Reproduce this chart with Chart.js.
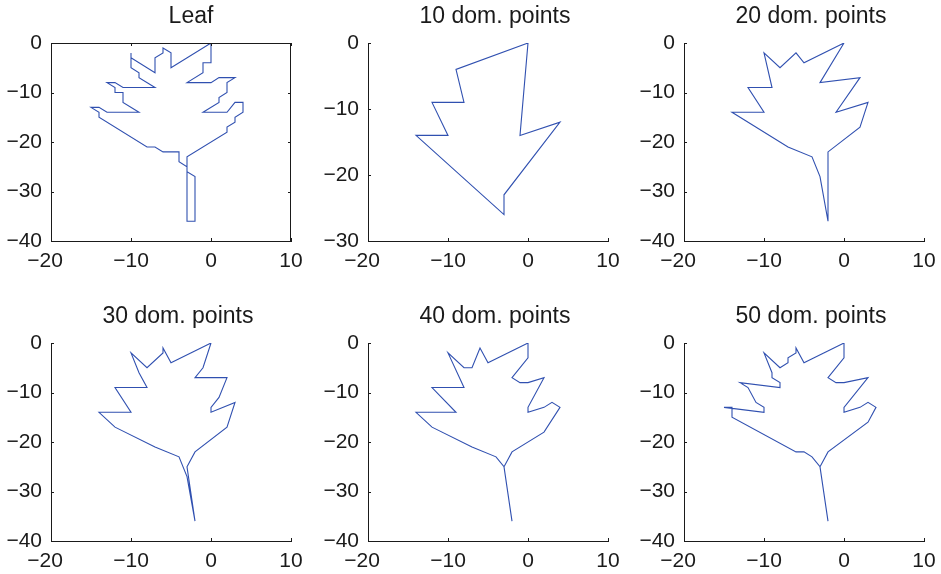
<!DOCTYPE html>
<html><head><meta charset="utf-8">
<script src="https://cdn.jsdelivr.net/npm/chart.js@4.4.1/dist/chart.umd.min.js"></script>
<style>
html,body{margin:0;padding:0;background:#fff;width:941px;height:574px;overflow:hidden;position:relative;}
canvas{position:absolute;}
</style></head><body>
<script>
// ---- tick labels ----
const xTicks = [-20, -10, 0, 10];
const yTicks40 = [-40, -30, -20, -10, 0];
const yTicks30 = [-30, -20, -10, 0];

// ---- titles ----
const titles = ['Leaf', '10 dom. points', '20 dom. points', '30 dom. points', '40 dom. points', '50 dom. points'];

// ---- series (outline vertices) ----
const leafX = [0,-5,-5,-6,-6,-7,-7,-10,-10,-10,-9,-9,-7,-11,-12,-13,-12,-12,-11,-11,-9,-13,-14,-15,-14,-14,-8,-7,-6,-4,-4,-3,-3,-2,-2,-3,-3,2,2,3,3,4,4,3,2,-1,1,1,2,2,3,1,0,-3,-1,-1,0,0];
const leafY = [0,-5,-2,-1,-2,-3,-6,-3,-2,-5,-6,-7,-9,-9,-8,-8,-9,-10,-10,-12,-14,-14,-13,-13,-14,-15,-21,-21,-22,-22,-24,-25,-36,-36,-27,-26,-23,-18,-17,-16,-15,-14,-12,-12,-14,-14,-12,-11,-10,-8,-7,-7,-8,-8,-6,-4,-4,0];

const dom10X = [0,-9,-8,-12,-10,-14,-3,-3,4,-1,0];
const dom10Y = [0,-4,-9,-9,-14,-14,-26,-23,-12,-14,0];

const dom20X = [0,-3,2,-1,3,2,-2,-2,-3,-4,-7,-14,-10,-12,-9,-10,-8,-6,-5,0];
const dom20Y = [0,-8,-7,-14,-12,-17,-22,-36,-27,-23,-21,-14,-14,-9,-9,-2,-5,-2,-4,0];

const dom30X = [0,-1,-2,2,1,0,0,3,2,-2,-3,-2,-3,-4,-7,-12,-14,-10,-12,-8,-9,-10,-8,-6,-6,-5,0];
const dom30Y = [0,-5,-7,-7,-11,-13,-14,-12,-17,-22,-25,-36,-27,-23,-21,-17,-14,-14,-9,-9,-6,-2,-5,-2,-1,-4,0];

const dom40X = [0,0,-2,-1,0,2,0,0,2,3,4,2,-2,-3,-2,-3,-4,-7,-12,-14,-9,-12,-8,-10,-8,-7,-6,-5,0];
const dom40Y = [0,-3,-7,-8,-8,-7,-13,-14,-13,-12,-13,-18,-22,-25,-36,-25,-23,-21,-17,-14,-14,-9,-9,-2,-5,-5,-1,-4,0];

const dom50X = [0,0,-2,-1,0,3,0,0,2,3,4,3,-2,-3,-2,-3,-4,-5,-6,-14,-14,-14,-15,-10,-10,-11,-12,-13,-8,-8,-9,-9,-10,-8,-7,-7,-6,-6,-5,0];
const dom50Y = [0,-3,-7,-8,-8,-7,-13,-14,-13,-12,-13,-16,-22,-25,-36,-25,-23,-22,-22,-15,-14,-13,-13,-14,-13,-12,-9,-8,-9,-8,-7,-6,-2,-5,-4,-3,-2,-1,-4,0];

const seriesX = [leafX, dom10X, dom20X, dom30X, dom40X, dom50X];
const seriesY = [leafY, dom10Y, dom20Y, dom30Y, dom40Y, dom50Y];
const yTickSets = [yTicks40, yTicks30, yTicks40, yTicks40, yTicks40, yTicks40];

// ---- layout (page pixels) ----
const colL = [51, 368, 684];
const rowT = [43, 343];
const PW = 240, PH = 198;
const YW = 55, PADT = 40, PADB = 30;
const titleDx = [20, 7, 7, 7, 7, 7];

const FONT = "'Liberation Sans', Arial, Helvetica, sans-serif";
const INK = '#1a1a1a';
const LINE = '#3050b0';

const fmt = v => (v < 0 ? '\u2212' + Math.abs(v) : String(v));

const tickPlugin = {
  id: 'inTicks',
  afterDraw(chart, args, opts) {
    const {ctx, chartArea: a} = chart;
    const x = chart.scales.x, y = chart.scales.y;
    const len = 3;
    ctx.save();
    ctx.strokeStyle = INK;
    ctx.lineWidth = 1;
    ctx.beginPath();
    x.ticks.forEach(t => {
      const px = Math.round(x.getPixelForValue(t.value)) + 0.5;
      ctx.moveTo(px, a.bottom); ctx.lineTo(px, a.bottom - len);
      if (opts.box) { ctx.moveTo(px, a.top); ctx.lineTo(px, a.top + len); }
    });
    y.ticks.forEach(t => {
      const py = Math.round(y.getPixelForValue(t.value)) + 0.5;
      ctx.moveTo(a.left, py); ctx.lineTo(a.left + len, py);
      if (opts.box) { ctx.moveTo(a.right, py); ctx.lineTo(a.right - len, py); }
    });
    if (opts.box) {
      const t = Math.round(a.top) + 0.5, r = Math.round(a.right) - 0.5;
      ctx.moveTo(a.left, t); ctx.lineTo(r, t);
      ctx.moveTo(r, a.top); ctx.lineTo(r, a.bottom);
    }
    ctx.stroke();
    ctx.restore();
  }
};

for (let i = 0; i < 6; i++) {
  const col = i % 3, row = Math.floor(i / 3);
  const L = colL[col], T = rowT[row];
  const w2 = YW + 2 * titleDx[i];
  const cw = YW + PW + w2, ch = PADT + PH + PADB;
  const cv = document.createElement('canvas');
  cv.width = cw; cv.height = ch;
  cv.style.left = (L - YW) + 'px';
  cv.style.top = (T - PADT) + 'px';
  cv.style.width = cw + 'px'; cv.style.height = ch + 'px';
  document.body.appendChild(cv);

  const yt = yTickSets[i];
  const pts = seriesX[i].map((xv, k) => ({x: xv, y: seriesY[i][k]}));

  new Chart(cv, {
    type: 'scatter',
    data: {
      datasets: [{
        data: pts,
        showLine: true,
        borderColor: LINE,
        backgroundColor: LINE,
        borderWidth: 1.1,
        pointRadius: 0,
        pointHoverRadius: 0,
        tension: 0,
        fill: false
      }]
    },
    options: {
      responsive: false,
      animation: false,
      devicePixelRatio: 1,
      layout: {padding: 0},
      events: [],
      plugins: {
        legend: {display: false},
        tooltip: {enabled: false},
        title: {
          display: true,
          text: titles[i],
          fullSize: true,
          color: INK,
          font: {family: FONT, size: 23, weight: 'normal', lineHeight: '24px'},
          padding: {top: 2, bottom: 14}
        },
        inTicks: {box: i === 0}
      },
      scales: {
        x: {
          type: 'linear', position: 'bottom',
          min: xTicks[0], max: xTicks[xTicks.length - 1],
          afterBuildTicks: s => { s.ticks = xTicks.map(v => ({value: v})); },
          afterFit: s => { s.height = PADB; },
          grid: {display: false, drawTicks: false},
          border: {display: true, color: INK, width: 1},
          ticks: {color: INK, font: {family: FONT, size: 21}, padding: 8, maxRotation: 0, autoSkip: false,
                  callback: (v, idx) => (idx === 0 ? fmt(v) + '  ' : fmt(v))}
        },
        y: {
          type: 'linear', position: 'left',
          min: yt[0], max: yt[yt.length - 1],
          afterBuildTicks: s => { s.ticks = yt.map(v => ({value: v})); },
          afterFit: s => { s.width = YW; },
          grid: {display: false, drawTicks: false},
          border: {display: true, color: INK, width: 1},
          ticks: {color: INK, font: {family: FONT, size: 21}, padding: 9, autoSkip: false,
                  callback: v => fmt(v)}
        },
        yR: {
          type: 'linear', position: 'right', display: true,
          afterFit: s => { s.width = w2; },
          grid: {display: false, drawTicks: false},
          border: {display: false},
          ticks: {display: false}
        }
      }
    },
    plugins: [tickPlugin]
  });
}
</script>
</body></html>
